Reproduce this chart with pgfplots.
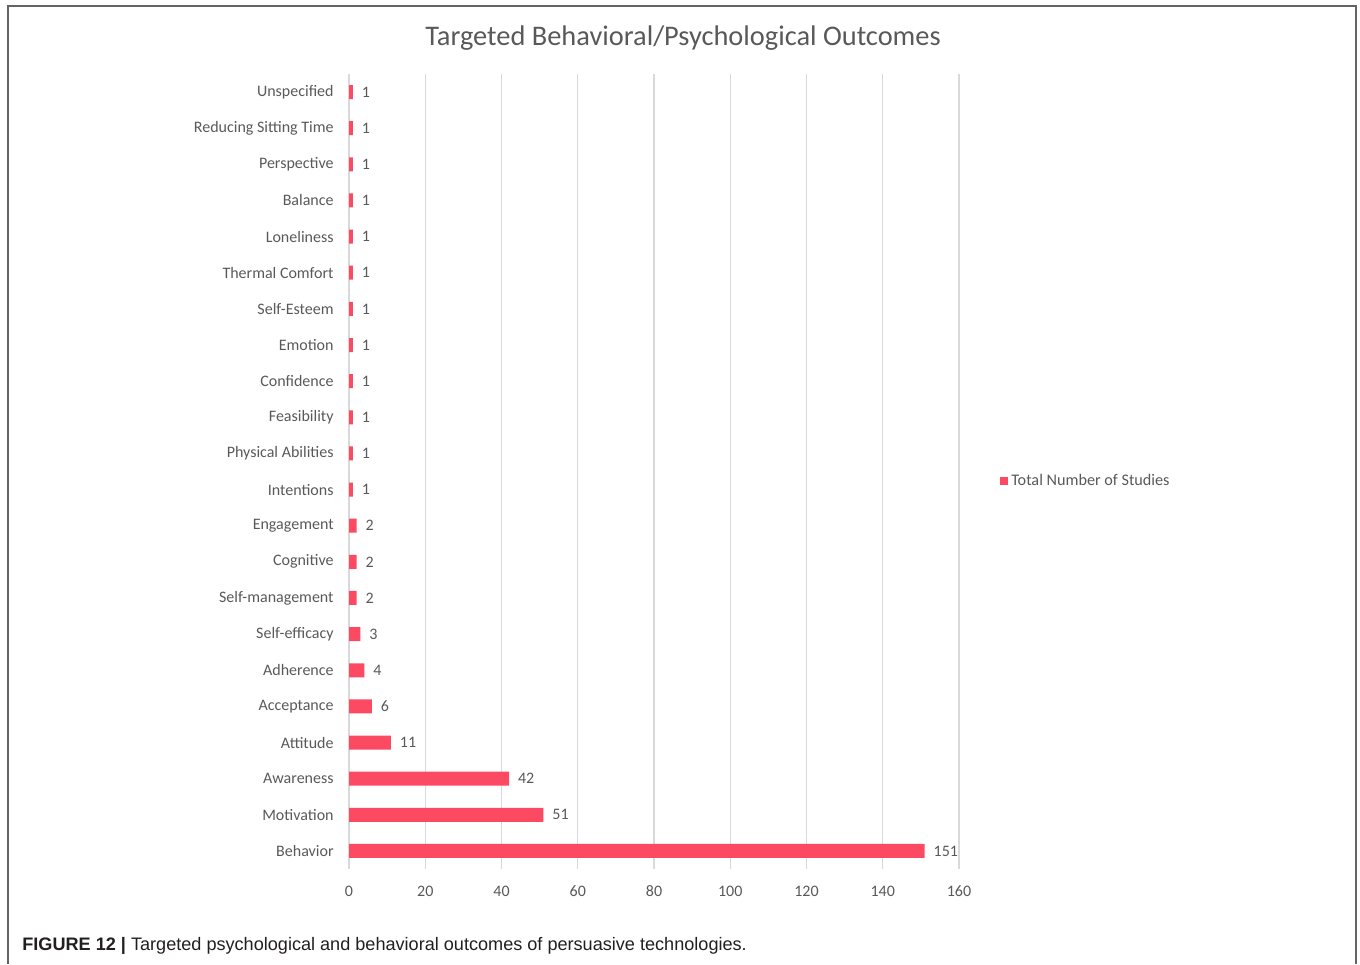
\documentclass[border=0pt]{standalone}
\usepackage{pgfplots}
\pgfplotsset{compat=1.18}
\usepackage{pgfplotstable}
\usepackage{fontspec}
\setmainfont{Carlito}
\newfontfamily\capfont{Liberation Sans}

\definecolor{barred}{RGB}{252,74,98}
\definecolor{txtgray}{RGB}{89,89,89}
\definecolor{gridgray}{RGB}{217,217,217}
\definecolor{framegray}{RGB}{100,100,100}
\definecolor{capblack}{RGB}{35,31,32}

% Outcomes, bottom to top
\pgfplotstableread{
idx value
0 151
1 51
2 42
3 11
4 6
5 4
6 3
7 2
8 2
9 2
10 1
11 1
12 1
13 1
14 1
15 1
16 1
17 1
18 1
19 1
20 1
21 1
}\outcomes

\begin{document}
\begin{tikzpicture}[x=0.5pt,y=0.5pt]
\useasboundingbox (0,0) rectangle (1360,964);
\draw[framegray, line width=1pt] (8,0) -- (8,958) -- (1356,958) -- (1356,0);

\node[font=\fontsize{14.2}{16}\selectfont, text=txtgray] at (683,926)
  {Targeted Behavioral/Psychological Outcomes};

\begin{axis}[
  at={(174.5pt,47.5pt)}, anchor=south west,
  width=305pt, height=397.5pt, scale only axis,
  xmin=0, xmax=160, ymin=-0.5, ymax=21.5,
  xbar, bar width=7pt, bar shift=0pt,
  xtick={0,20,...,160},
  ytick={0,...,21},
  yticklabels={Behavior,Motivation,Awareness,Attitude,Acceptance,Adherence,
    Self-efficacy,Self-management,Cognitive,Engagement,Intentions,
    Physical Abilities,Feasibility,Confidence,Emotion,Self-Esteem,
    Thermal Comfort,Loneliness,Balance,Perspective,Reducing Sitting Time,
    Unspecified},
  xmajorgrids, grid style={gridgray, line width=0.7pt},
  axis line style={draw=none}, major tick length=0pt,
  tick label style={font=\fontsize{8}{9.5}\selectfont, text=txtgray},
  xticklabel style={anchor=base, yshift=-13.5pt},
  yticklabel style={anchor=east, inner sep=0pt, xshift=-7.5pt},
  /pgf/number format/assume math mode=true,
  nodes near coords,
  nodes near coords style={font=\fontsize{8}{9.5}\selectfont, text=txtgray,
    anchor=west, inner sep=0pt, xshift=4.3pt},
  clip=false,
  legend style={at={(1.067,0.488)}, anchor=west, draw=none, fill=none,
    inner sep=0pt, font=\fontsize{8.1}{9.5}\selectfont, text=txtgray,
    nodes={inner sep=1.5pt}},
  legend image code/.code={\fill[barred] (0pt,-2pt) rectangle (4pt,2pt);},
]
\addplot[fill=barred, draw=none] table[x=value, y=idx] {\outcomes};
\addlegendentry{Total Number of Studies}
\end{axis}

\node[anchor=west, inner sep=0pt, font=\capfont\fontsize{9.05}{10.5}\selectfont, text=capblack]
  at (22,18) {\textbf{FIGURE 12 |} Targeted psychological and behavioral outcomes of persuasive technologies.};
\end{tikzpicture}
\end{document}
